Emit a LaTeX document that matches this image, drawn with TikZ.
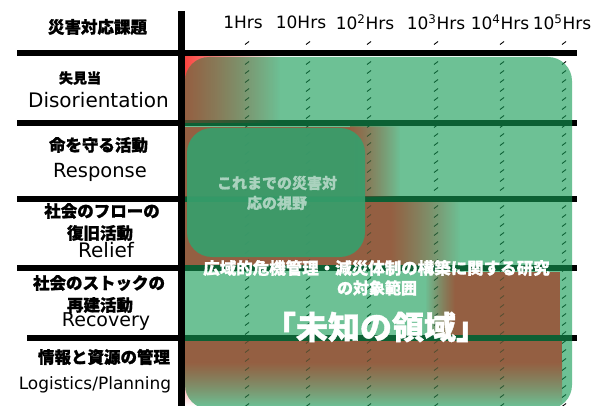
\documentclass[tikz,border=0pt]{standalone}
\usepackage{fontspec}
\usetikzlibrary{fadings}
\setmainfont{DejaVu Sans}
\newfontfamily\jp{Noto Sans CJK JP}[BoldFeatures={FakeBold=1.2}]
\definecolor{rd}{RGB}{250,70,65}
\definecolor{rdo}{RGB}{230,45,45}
\definecolor{gr}{RGB}{20,155,85}
\definecolor{inbox}{RGB}{55,158,108}
\definecolor{intext}{RGB}{170,210,190}
\tikzset{
  bar/.style={line width=6pt, black},
  tickmark/.style={line width=0.9pt, black},
  jlabel/.style={font=\jp\bfseries\fontsize{16.5}{18}\selectfont, inner sep=0pt},
  elabel/.style={inner sep=0pt},
  hdr/.style={font=\fontsize{17}{19}\selectfont, inner sep=0pt},
}
\begin{document}
\begin{tikzpicture}[x=1pt,y=-1pt]
\useasboundingbox (0,0) rectangle (594,406);
\fill[white] (0,0) rectangle (594,406);
% red zones (under the green)
\shade[left color=rd, right color=white] (185,57) rectangle (280,123);
\fill[rd] (185,127) rectangle (350,197);
\shade[left color=rd, right color=white] (350,127) rectangle (400,197);
\fill[rd] (185,202) rectangle (390,265);
\shade[left color=rd, right color=white] (390,202) rectangle (460,265);
\shade[left color=white, right color=rd] (425,272) rectangle (455,335);
\fill[rd] (455,272) rectangle (560,335);
\fill[rd] (185,341) rectangle (562,362);
\shade[top color=rd, bottom color=white] (185,362) rectangle (562,406);
% grid lines
\draw[bar] (17,53) -- (577,53);
\draw[bar] (17,123.5) -- (577,123.5);
\draw[bar] (17,199) -- (577,199);
\draw[bar] (17,267.5) -- (577,267.5);
\draw[bar] (27,338) -- (577,338);
\draw[line width=7pt] (181.5,11) -- (181.5,406);
% ticks
\foreach \x in {247,308,369,436,502,564}{
  \draw[tickmark] (\x-2,44.5) -- (\x+2,41.5);
  \foreach \y in {63,72,...,405}{
    \draw[tickmark] (\x-2,\y+1.5) -- (\x+2,\y-1.5);
  }
}
% green overlay
\fill[gr, opacity=0.62, rounded corners=24pt] (185,57) rectangle (572,409);
% red tint over the green
\begin{scope}[opacity=0.34]
  \clip[rounded corners=24pt] (185,57) rectangle (572,409);
  \fill[rdo, path fading=east] (185,57) rectangle (280,123);
  \fill[rdo] (185,127) rectangle (350,197);
  \fill[rdo, path fading=east] (350,127) rectangle (400,197);
  \fill[rdo] (185,202) rectangle (390,265);
  \fill[rdo, path fading=east] (390,202) rectangle (460,265);
  \fill[rdo, path fading=west] (425,272) rectangle (455,335);
  \fill[rdo] (455,272) rectangle (560,335);
  \fill[rdo] (185,341) rectangle (562,362);
  \fill[rdo, path fading=south] (185,362) rectangle (562,406);
\end{scope}
% inner box
\node[fill=inbox, fill opacity=0.92, rounded corners=25pt, minimum width=178pt, minimum height=129pt, inner sep=0pt] (past) at (276,192.5) {};
\node[font=\jp\bfseries\fontsize{15}{20}\selectfont, text=intext, align=center, inner sep=0pt] (pasttxt) at (277,193) {これまでの災害対\\応の視野};
% headers
\node[jlabel] (h0) at (97.5,27) {災害対応課題};
\node[hdr] (c1) at (243,22) {1Hrs};
\node[hdr] (c2) at (301,22) {10Hrs};
\node[hdr] (c3) at (365,22) {10\textsuperscript{2}Hrs};
\node[hdr] (c4) at (436,22) {10\textsuperscript{3}Hrs};
\node[hdr] (c5) at (500,22) {10\textsuperscript{4}Hrs};
\node[hdr] (c6) at (562,22) {10\textsuperscript{5}Hrs};
% row labels
\node[jlabel, font=\jp\bfseries\fontsize{14}{16}\selectfont] (r1a) at (80,78) {失見当};
\node[elabel, font=\fontsize{20}{22}\selectfont] (r1b) at (98.5,100) {Disorientation};
\node[jlabel] (r2a) at (98.5,145) {命を守る活動};
\node[elabel, font=\fontsize{19.5}{22}\selectfont] (r2b) at (100,172) {Response};
\node[jlabel] (r3a) at (102,211) {社会のフローの};
\node[jlabel] (r3b) at (100,233) {復旧活動};
\node[elabel, font=\fontsize{20}{22}\selectfont] (r3c) at (106,250) {Relief};
\node[jlabel] (r4a) at (99,283) {社会のストックの};
\node[jlabel] (r4b) at (100,305) {再建活動};
\node[elabel, font=\fontsize{19}{22}\selectfont] (r4c) at (106,322) {Recovery};
\node[jlabel] (r5a) at (104,357) {情報と資源の管理};
\node[elabel, font=\fontsize{17}{20}\selectfont] (r5b) at (95,385) {Logistics/Planning};
% main texts
\node[font=\jp\bfseries\fontsize{16.5}{18}\selectfont, text=white, inner sep=0pt] (t1) at (376.5,268) {広域的危機管理・減災体制の構築に関する研究};
\node[font=\jp\bfseries\fontsize{16}{18}\selectfont, text=white, inner sep=0pt] (t2) at (377,288) {の対象範囲};
\node[font=\jp\bfseries\fontsize{32}{34}\selectfont, text=white, inner sep=0pt] (t3) at (376,327) {「未知の領域」};
\end{tikzpicture}
\end{document}
